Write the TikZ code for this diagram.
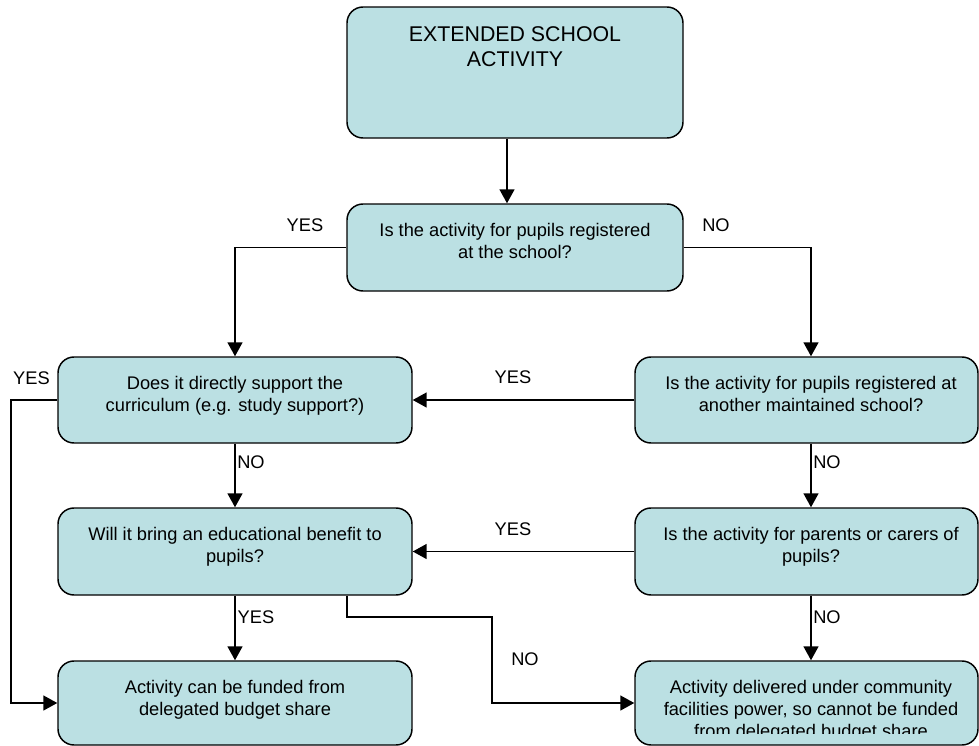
\documentclass[tikz,border=0pt]{standalone}
\usepackage{fontspec}
\setmainfont{Liberation Sans}
\usetikzlibrary{arrows.meta,fit}
\definecolor{boxfill}{RGB}{187,224,227}
\begin{document}
\begin{tikzpicture}[x=0.75pt,y=-0.75pt,
  box/.style={draw=black, line width=1.1pt, fill=boxfill, rounded corners=12pt, inner sep=0pt},
  txt/.style={align=center, inner sep=0pt, font=\fontsize{13.7}{16.3}\selectfont, anchor=north},
  head/.style={align=center, inner sep=0pt, font=\fontsize{16}{18.8}\selectfont, anchor=north},
  lbl/.style={inner sep=0pt, font=\fontsize{13.7}{16}\selectfont},
  arr/.style={line width=1.2pt, -{Triangle[length=10.5pt,width=11.25pt]}}]
\useasboundingbox (0,0) rectangle (979,746);
% boxes
\node[box, fit={(347,7) (683,138)}] (top) {};
\node[box, fit={(347,204) (683,291)}] (q1) {};
\node[box, fit={(58,357) (412,443)}] (L1) {};
\node[box, fit={(635,357) (978,443)}] (R1) {};
\node[box, fit={(58,508) (412,595)}] (L2) {};
\node[box, fit={(635,508) (978,595)}] (R2) {};
\node[box, fit={(58,661) (412,745)}] (L3) {};
\node[box, fit={(635,661) (978,745)}] (R3) {};
% helper coordinates
\coordinate (cTop) at (507,0);
\coordinate (cR) at (811,0);
\coordinate (cNo) at (347,0);
\coordinate (bend) at (492,617);
\coordinate (lft) at (11,0);
% texts
\node[head] (topT) at ([yshift=-15pt]top.north) {EXTENDED SCHOOL\\ACTIVITY};
\node[txt] (q1T) at ([yshift=-15pt]q1.north) {Is the activity for pupils registered\\at the school?};
\node[txt] (L1T) at ([yshift=-15pt]L1.north) {Does it directly support the\\curriculum (e.g. study support?)};
\node[txt] (R1T) at ([yshift=-15pt]R1.north -| cR) {Is the activity for pupils registered at\\another maintained school?};
\node[txt] (L2T) at ([yshift=-15pt]L2.north) {Will it bring an educational benefit to\\pupils?};
\node[txt] (R2T) at ([yshift=-15pt]R2.north -| cR) {Is the activity for parents or carers of\\pupils?};
\node[txt] (L3T) at ([yshift=-15pt]L3.north) {Activity can be funded from\\delegated budget share};
\begin{scope}
\clip (600,655) rectangle (979,733);
\node[txt] (R3T) at ([yshift=-15pt]R3.north -| cR) {Activity delivered under community\\facilities power, so cannot be funded\\from delegated budget share};
\end{scope}
% connectors
\draw[arr] (top.south -| cTop) -- (q1.north -| cTop);
\draw[arr] (q1.west) -| (L1.north);
\draw[arr] (q1.east) -| (R1.north -| cR);
\draw[arr] (R1.west) -- (L1.east);
\draw[arr] (L1.south) -- (L2.north);
\draw[arr] (R1.south -| cR) -- (R2.north -| cR);
\draw[arr] (R2.west) -- (L2.east);
\draw[arr] (L2.south) -- (L3.north);
\draw[arr] (R2.south -| cR) -- (R3.north -| cR);
\draw[arr] (L1.west) -| (lft |- L3.west) -- (L3.west);
\draw[arr] (L2.south -| cNo) |- (bend) |- (R3.west);
% labels
\node[lbl] (y1) at (305,225) {YES};
\node[lbl] (n1) at (716,225) {NO};
\node[lbl] (y2) at (31.5,378) {YES};
\node[lbl] (y3) at (513,377) {YES};
\node[lbl] (n2) at (251,462) {NO};
\node[lbl] (n3) at (827,462) {NO};
\node[lbl] (y4) at (513,529) {YES};
\node[lbl] (y5) at (256,617) {YES};
\node[lbl] (n4) at (827,617) {NO};
\node[lbl] (n5) at (525,659) {NO};
\end{tikzpicture}
\end{document}
